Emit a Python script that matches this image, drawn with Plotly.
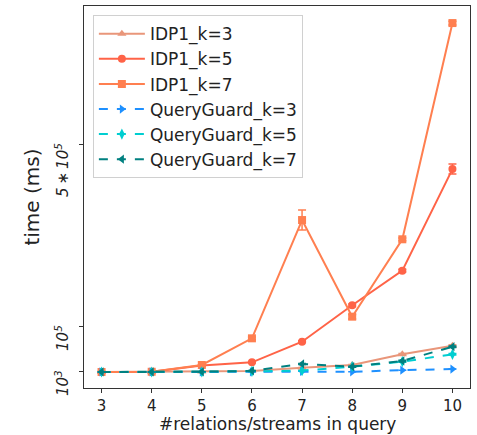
import plotly.graph_objects as go

# Query sizes (number of relations / streams)
relations = [3, 4, 5, 6, 7, 8, 9, 10]

# Execution time in ms
idp1_k3 = [1000, 1200, 2000, 3000, 10500, 16400, 39900, 58800]
idp1_k5 = [1000, 1500, 15000, 22300, 67600, 147600, 223700, 447000]
idp1_k7 = [1000, 1500, 16400, 75000, 335000, 122600, 292700, 768000]
qg_k3 = [1000, 1000, 1000, 1500, 2500, 1500, 5000, 7500]
qg_k5 = [1000, 1000, 1200, 2500, 4000, 12600, 23600, 39900]
qg_k7 = [1000, 1000, 1500, 3500, 18600, 12600, 25200, 56600]

# Standard deviations (ms)
idp1_k3_err = [0, 0, 0, 0, 500, 800, 1500, 2000]
idp1_k5_err = [0, 0, 500, 1500, 2000, 3000, 3000, 11000]
idp1_k7_err = [0, 0, 500, 3000, 22000, 5000, 3000, 4000]
qg_k3_err = [0, 0, 0, 0, 0, 0, 0, 0]
qg_k5_err = [0, 0, 0, 0, 500, 500, 1000, 1500]
qg_k7_err = [0, 0, 0, 500, 1000, 1000, 1500, 1500]

# Y tick positions and labels
ytick_vals = [1000, 100000, 500000]
ytick_text = ["<i>10<sup>3</sup></i>", "<i>10<sup>5</sup></i>",
              "<i>5\u2009∗\u200910<sup>5</sup></i>"]

x_title = "#relations/streams in query"

series = [
    ("IDP1_k=3", idp1_k3, idp1_k3_err, "#E9967A", "triangle-up", "solid"),
    ("IDP1_k=5", idp1_k5, idp1_k5_err, "#FF6347", "circle", "solid"),
    ("IDP1_k=7", idp1_k7, idp1_k7_err, "#FF7F50", "square", "solid"),
    ("QueryGuard_k=3", qg_k3, qg_k3_err, "#1E90FF", "triangle-right", "dash"),
    ("QueryGuard_k=5", qg_k5, qg_k5_err, "#00CED1", "diamond-tall", "dash"),
    ("QueryGuard_k=7", qg_k7, qg_k7_err, "#008080", "triangle-left", "dash"),
]

fig = go.Figure()
for name, vals, errs, color, symbol, dash in series:
    fig.add_trace(go.Scatter(
        x=relations, y=vals, name=name, mode="lines+markers",
        line=dict(color=color, width=2, dash=dash),
        marker=dict(symbol=symbol, size=8, color=color),
        error_y=dict(type="data", array=errs, visible=True,
                     color=color, thickness=1.5, width=4),
    ))

# Rotated y tick labels, end-aligned just above each tick
for val, txt in zip(ytick_vals, ytick_text):
    fig.add_annotation(
        x=0, xref="paper", y=val, yref="y", text=txt, textangle=-90,
        xanchor="right", yanchor="top", xshift=-10, yshift=4,
        showarrow=False, font=dict(size=15, color="#222"),
    )

# X axis title below the tick labels
fig.add_annotation(
    x=0.5, xref="paper", y=0, yref="paper", text=x_title,
    xanchor="center", yanchor="middle", yshift=-36,
    showarrow=False, font=dict(size=17, color="#222"),
)

fig.update_layout(
    width=477, height=435,
    margin=dict(l=84, r=7, t=6, b=47),
    paper_bgcolor="white", plot_bgcolor="white",
    font=dict(family="DejaVu Sans", size=17, color="#222"),
    showlegend=True,
    legend=dict(
        x=0.023, y=0.976, xanchor="left", yanchor="top",
        bgcolor="rgba(255,255,255,0.85)", bordercolor="#d0d0d0", borderwidth=1,
        font=dict(size=17, color="#222"),
        itemwidth=46, tracegroupgap=0,
    ),
    xaxis=dict(
        range=[2.65, 10.35], tickvals=relations,
        tickfont=dict(size=15),
        showline=True, linecolor="#333", linewidth=1, mirror=True,
        ticks="outside", ticklen=4, tickcolor="#333",
        showgrid=False, zeroline=False, automargin=False,
    ),
    yaxis=dict(
        range=[-34200, 805500], tickvals=ytick_vals, showticklabels=False,
        title=dict(text="time (ms)", standoff=34),
        showline=True, linecolor="#333", linewidth=1, mirror=True,
        ticks="outside", ticklen=4, tickcolor="#333",
        showgrid=False, zeroline=False, automargin=False,
    ),
)

fig.write_html("out.html")
